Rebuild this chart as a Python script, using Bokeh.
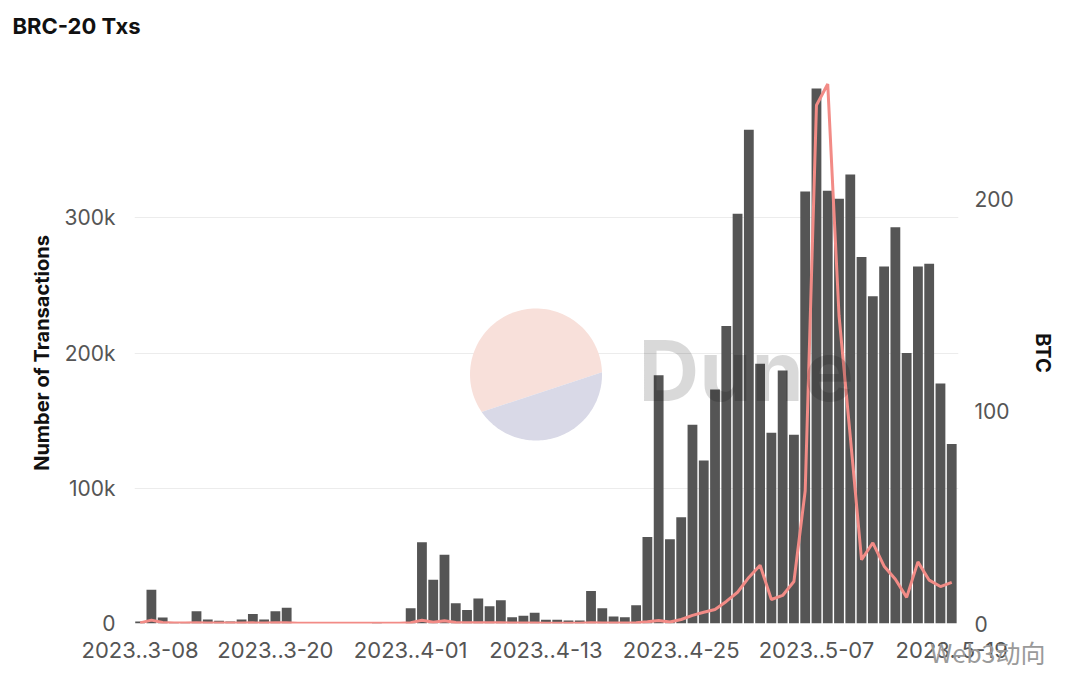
import numpy as np
import pandas as pd
from bokeh.plotting import figure
from bokeh.models import Range1d, LinearAxis, FixedTicker, Label, ColumnDataSource, Title
from bokeh.embed import file_html
from bokeh.resources import INLINE

# ---------------- data ----------------
dates = pd.date_range("2023-03-08", "2023-05-19", freq="D").strftime("%Y-%m-%d").tolist()

txs_k = [1.5, 25, 4.5, 1, 1, 9, 3, 2, 1.5, 3, 7, 3, 9, 11.6,
         0, 0, 0, 0, 0, 0, 0, 0.5, 0, 0,
         11.3, 60, 32.3, 50.8, 15, 10, 18.5, 12.8, 17.2, 4.7, 5.7, 7.9, 2.7, 2.7, 2.2, 2.2,
         24, 11.3, 5.2, 4.6, 13.5, 64, 183.5, 62.3, 78.5, 147, 120.6, 173, 220, 303, 365,
         192, 141, 187, 139.5, 319.5, 395.5, 320, 314, 332, 271, 242, 264, 293, 200, 264,
         266, 177.5, 132.7]

btc = [0.3, 1.6, 0.5, 0.2, 0.2, 0.3, 0.2, 0.2, 0.2, 0.2, 0.3, 0.2, 0.3, 0.3,
       0.1, 0.1, 0.1, 0.1, 0.1, 0.1, 0.1, 0.1, 0.1, 0.1,
       0.4, 1.5, 0.6, 1.3, 0.5, 0.3, 0.4, 0.3, 0.3, 0.2, 0.2, 0.2, 0.1, 0.1, 0.1, 0.1,
       0.3, 0.2, 0.2, 0.2, 0.4, 0.8, 1.4, 0.7, 1.9, 3.8, 5.3, 6.6, 10.4, 14.7, 21.7,
       27.4, 11.3, 13.2, 19.8, 62.5, 244, 254, 145, 88, 30, 38, 27, 20.8, 12.3, 29,
       20.4, 17.4, 19.4]

tick_dates = ["2023-03-08", "2023-03-20", "2023-04-01", "2023-04-13",
              "2023-04-25", "2023-05-07", "2023-05-19"]
tick_labels = ["2023..3-08", "2023..3-20", "2023..4-01", "2023..4-13",
               "2023..4-25", "2023..5-07", "2023..5-19"]

left_ticks = [0, 100000, 200000, 300000]
left_tick_labels = ["0", "100k", "200k", "300k"]
right_ticks = [0, 100, 200]

# ---------------- figure ----------------
FONT = "Inter"
idx = list(range(len(dates)))
src = ColumnDataSource(dict(x=idx, date=dates, txs=[v * 1000 for v in txs_k], btc=btc))

X0, X1 = -0.5, 72.6
Y1 = 400000
BTC1 = 254.7

p = figure(width=1072, height=690, output_backend="svg", toolbar_location=None,
           x_range=Range1d(X0, X1), y_range=Range1d(0, Y1),
           min_border_left=134, min_border_right=114, min_border_top=82, min_border_bottom=67)
p.extra_y_ranges = {"btc": Range1d(0, BTC1)}
p.outline_line_color = None
p.background_fill_color = "white"
p.border_fill_color = "white"

# grid
p.xgrid.grid_line_color = None
p.ygrid.grid_line_color = "#ececec"
p.ygrid.grid_line_width = 1

# watermark logo (behind)
frame_w, frame_h = 824, 541
px_x = frame_w / (X1 - X0)
px_y = frame_h / Y1
cx, cy, r = 35.12, 184100, 66


def seg(a0, a1):
    t = np.radians(np.linspace(a0, a1, 90))
    return list(cx + r * np.cos(t) / px_x), list(cy + r * np.sin(t) / px_y)


pxs, pys = seg(2, 214.5)
lxs, lys = seg(214.5, 362)
p.patch(pxs, pys, fill_color="#f8e0da", line_color=None)
p.patch(lxs, lys, fill_color="#d9d9e7", line_color=None)

# bars
p.vbar(x="x", top="txs", width=0.87, source=src, fill_color="#555555", line_color=None)

# line
p.line(x="x", y="btc", source=src, y_range_name="btc", line_color="#f28b86", line_width=3)

# Dune watermark text
p.add_layout(Label(x=504, y=253, x_units="screen", y_units="screen", text="Dune",
                   text_font=FONT, text_font_size="84px", text_font_style="bold",
                   text_color="black", text_alpha=0.15, text_baseline="alphabetic"))

# axes
ax = p.xaxis[0]
ax.ticker = FixedTicker(ticks=[dates.index(d) for d in tick_dates])
ax.major_label_overrides = {dates.index(d): l for d, l in zip(tick_dates, tick_labels)}
ax.axis_line_color = None
ax.major_tick_line_color = None
ax.minor_tick_line_color = None
ax.major_label_text_font = FONT
ax.major_label_text_font_size = "22px"
ax.major_label_text_color = "#555555"
ax.major_label_standoff = 12

ay = p.yaxis[0]
ay.ticker = FixedTicker(ticks=left_ticks)
ay.major_label_overrides = {t: l for t, l in zip(left_ticks, left_tick_labels)}
ay.axis_line_color = None
ay.major_tick_line_color = None
ay.minor_tick_line_color = None
ay.major_label_text_font = FONT
ay.major_label_text_font_size = "21px"
ay.major_label_text_color = "#555555"
ay.major_label_standoff = 13
ay.axis_label = "Number of Transactions"
ay.axis_label_text_font = FONT
ay.axis_label_text_font_size = "20px"
ay.axis_label_text_font_style = "bold"
ay.axis_label_text_color = "#111111"
ay.axis_label_standoff = 8

ar = LinearAxis(y_range_name="btc", ticker=FixedTicker(ticks=right_ticks))
ar.axis_line_color = None
ar.major_tick_line_color = None
ar.minor_tick_line_color = None
ar.major_label_text_font = FONT
ar.major_label_text_font_size = "21px"
ar.major_label_text_color = "#555555"
ar.major_label_standoff = 10
ar.axis_label = "BTC"
ar.axis_label_text_font = FONT
ar.axis_label_text_font_size = "20px"
ar.axis_label_text_font_style = "bold"
ar.axis_label_text_color = "#111111"
ar.axis_label_standoff = 14
p.add_layout(ar, "right")

# title (a blank spacer next to the frame, the title outside it)
p.add_layout(Title(text=" ", standoff=41, text_font_size="1px"), "above")
p.add_layout(Title(text="BRC-20 Txs", align="left", offset=-122, standoff=0,
                   text_font=FONT, text_font_size="22px", text_font_style="bold",
                   text_color="#111111"), "above")

# source watermark
p.add_layout(Title(text="Web3动向", align="right", offset=-87, standoff=-54,
                   vertical_align="top",
                   text_font="Noto Sans CJK SC", text_font_size="25px", text_font_style="normal",
                   text_color="#9a9a9a"), "below")

open("out.html", "w").write(file_html(p, INLINE))
